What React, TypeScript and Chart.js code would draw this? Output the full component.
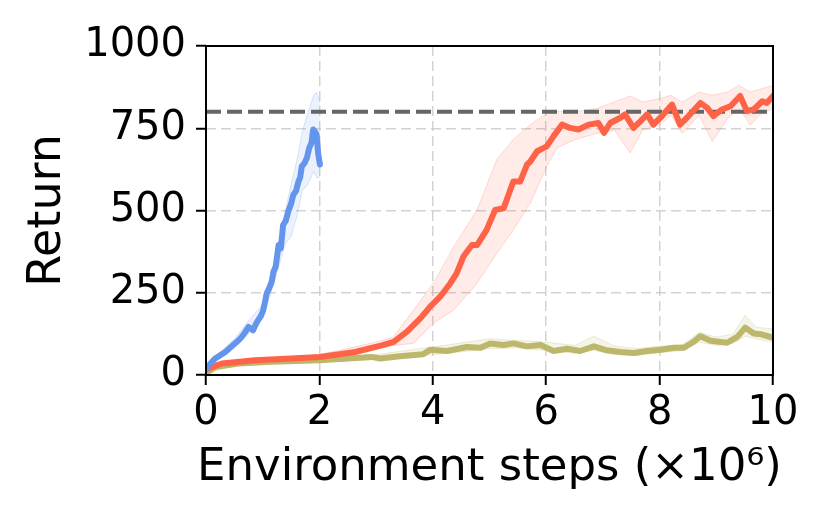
import React, { useEffect, useRef } from "react";
import { Chart, registerables } from "chart.js";

Chart.register(...registerables);

// ---- Data (x in units of 1e6 environment steps) ----
const blueX = [0.0, 0.08, 0.16, 0.25, 0.34, 0.42, 0.51, 0.57, 0.63, 0.69, 0.75, 0.8, 0.83, 0.88, 0.92, 0.97, 1.01, 1.05, 1.07, 1.11, 1.16, 1.19, 1.23, 1.28, 1.32, 1.36, 1.41, 1.45, 1.5, 1.54, 1.59, 1.63, 1.66, 1.69, 1.74, 1.78, 1.82, 1.86, 1.89, 1.92, 1.95, 1.98, 2.01];
const blueMean = [18, 35, 50, 60, 70, 82, 96, 105, 116, 130, 146, 140, 136, 155, 167, 180, 197, 230, 248, 262, 284, 314, 330, 395, 385, 456, 470, 497, 520, 548, 560, 588, 600, 634, 645, 660, 690, 705, 746, 740, 731, 670, 640];
const blueBandX = [0, 0.25, 0.5, 0.75, 1.0, 1.2, 1.4, 1.5, 1.6, 1.7, 1.8, 1.9, 1.95, 2.01];
const blueHigh = [25, 70, 110, 165, 215, 340, 500, 580, 650, 740, 800, 850, 860, 830];
const blueLow = [12, 50, 85, 125, 180, 280, 400, 420, 480, 560, 580, 620, 600, 600];

const redX = [0, 0.28, 0.86, 1.5, 2.01, 2.63, 3.1, 3.31, 3.54, 3.78, 3.95, 4.13, 4.31, 4.42, 4.54, 4.69, 4.78, 4.95, 5.1, 5.25, 5.42, 5.54, 5.66, 5.72, 5.84, 6.01, 6.13, 6.28, 6.42, 6.57, 6.75, 6.92, 7.02, 7.13, 7.31, 7.39, 7.54, 7.66, 7.78, 7.89, 8.04, 8.22, 8.36, 8.51, 8.72, 8.84, 8.95, 9.1, 9.25, 9.42, 9.54, 9.66, 9.81, 9.89, 10.0];
const redMean = [17, 35, 45, 50, 55, 70, 90, 101, 131, 172, 207, 238, 279, 309, 360, 395, 395, 441, 502, 507, 588, 588, 639, 649, 680, 695, 726, 761, 751, 746, 761, 766, 736, 766, 782, 792, 751, 771, 792, 761, 787, 822, 761, 787, 827, 812, 787, 807, 817, 848, 802, 807, 832, 827, 848];
const redBandX = [0, 1, 2, 3, 3.3, 3.66, 4.01, 4.37, 4.78, 5.13, 5.42, 5.72, 6.01, 6.19, 6.5, 6.9, 7.2, 7.48, 7.7, 8.0, 8.2, 8.4, 8.7, 8.93, 9.2, 9.4, 9.6, 9.8, 10];
const redLow = [12, 40, 50, 78, 90, 96, 157, 197, 279, 370, 441, 522, 634, 690, 715, 735, 745, 675, 745, 760, 790, 735, 790, 710, 780, 810, 760, 795, 810];
const redHigh = [22, 50, 62, 100, 115, 197, 279, 390, 502, 655, 716, 761, 795, 802, 800, 810, 830, 848, 830, 840, 850, 830, 860, 850, 860, 880, 860, 870, 880];

const oliveX = [0, 0.16, 0.57, 1.16, 2.01, 2.92, 3.07, 3.42, 3.83, 3.95, 4.25, 4.6, 4.84, 5.01, 5.25, 5.42, 5.66, 5.9, 6.13, 6.37, 6.6, 6.84, 7.07, 7.31, 7.55, 7.78, 8.02, 8.25, 8.43, 8.6, 8.72, 8.9, 9.19, 9.37, 9.51, 9.66, 9.78, 9.99];
const oliveMean = [5, 24, 35, 40, 45, 55, 50, 57, 63, 77, 73, 85, 83, 96, 91, 96, 87, 91, 73, 80, 73, 87, 75, 70, 67, 73, 77, 83, 83, 101, 118, 104, 98, 116, 144, 126, 124, 114];
const oliveBandX = [0, 0.5, 1, 2, 3, 4, 4.6, 5, 5.5, 6, 6.5, 6.84, 7.2, 7.6, 8, 8.4, 8.7, 9, 9.3, 9.51, 9.7, 10];
const oliveLow = [3, 30, 35, 40, 47, 62, 72, 80, 82, 75, 66, 75, 62, 60, 68, 74, 100, 90, 96, 118, 110, 100];
const oliveHigh = [8, 40, 45, 52, 62, 85, 100, 110, 105, 100, 90, 118, 88, 80, 88, 92, 130, 115, 125, 182, 145, 140];

const refX = [0, 10];
const refY = [800, 800];

const xTicks = [0, 2, 4, 6, 8, 10];
const yTicks = [0, 250, 500, 750, 1000];

const X_TITLE = "Environment steps (×10⁶)";
const Y_TITLE = "Return";

const BLUE = "#6495ED";
const RED = "#FF6347";
const OLIVE = "#BDB76B";
const FONT_FAMILY = "'DejaVu Sans', sans-serif";

const pts = (xs: number[], ys: number[]) => xs.map((x, i) => ({ x, y: ys[i] }));

function meanLine(xs: number[], ys: number[], color: string, order: number) {
  return {
    data: pts(xs, ys),
    borderColor: color,
    backgroundColor: color,
    borderWidth: 6,
    pointRadius: 0,
    tension: 0,
    fill: false,
    borderJoinStyle: "round" as const,
    borderCapStyle: "round" as const,
    order,
  };
}

function bandPair(xs: number[], lo: number[], hi: number[], edge: string, fillColor: string, order: number) {
  return [
    {
      data: pts(xs, hi),
      borderColor: edge,
      borderWidth: 1,
      pointRadius: 0,
      tension: 0,
      fill: false,
      order,
    },
    {
      data: pts(xs, lo),
      borderColor: edge,
      backgroundColor: fillColor,
      borderWidth: 1,
      pointRadius: 0,
      tension: 0,
      fill: "-1",
      order,
    },
  ];
}

const spinePlugin = {
  id: "spines",
  afterDatasetsDraw(chart: any) {
    const { ctx, chartArea } = chart;
    const { left, top, right, bottom } = chartArea;
    ctx.save();
    ctx.strokeStyle = "#000";
    ctx.lineWidth = 2;
    ctx.strokeRect(left, top, right - left, bottom - top);
    ctx.restore();
  },
};

// x-axis title drawn without Chart.js's maxWidth squeeze (text is wider than the plot)
const xTitlePlugin = {
  id: "xTitle",
  afterDraw(chart: any) {
    const { ctx, chartArea } = chart;
    ctx.save();
    ctx.fillStyle = "#000";
    ctx.font = `45px ${FONT_FAMILY}`;
    ctx.textAlign = "center";
    ctx.textBaseline = "alphabetic";
    ctx.fillText(X_TITLE, (chartArea.left + chartArea.right) / 2, 480);
    ctx.restore();
  },
};

export default function App() {
  const ref = useRef<HTMLCanvasElement | null>(null);

  useEffect(() => {
    if (!ref.current) return;
    const datasets: any[] = [
      ...bandPair(blueBandX, blueLow, blueHigh, "rgba(100,149,237,0.22)", "rgba(100,149,237,0.13)", 10),
      ...bandPair(redBandX, redLow, redHigh, "rgba(255,99,71,0.22)", "rgba(255,99,71,0.12)", 10),
      ...bandPair(oliveBandX, oliveLow, oliveHigh, "rgba(189,183,107,0.25)", "rgba(189,183,107,0.15)", 10),
      {
        data: pts(refX, refY),
        borderColor: "#666666",
        borderWidth: 4,
        borderDash: [15, 6],
        pointRadius: 0,
        fill: false,
        order: 5,
      },
      meanLine(oliveX, oliveMean, OLIVE, 3),
      meanLine(redX, redMean, RED, 2),
      meanLine(blueX, blueMean, BLUE, 1),
    ];

    const font = { family: FONT_FAMILY };
    const chart = new Chart(ref.current, {
      type: "line",
      data: { datasets },
      options: {
        animation: false,
        responsive: false,
        devicePixelRatio: 1,
        layout: { padding: { left: 0, top: 46, right: 57, bottom: 0 } },
        plugins: { legend: { display: false }, tooltip: { enabled: false } },
        scales: {
          x: {
            type: "linear",
            min: 0,
            max: 10,
            afterFit: (s: any) => {
              s.height = 144;
            },
            afterBuildTicks: (s: any) => {
              s.ticks = xTicks.map((v) => ({ value: v }));
            },
            ticks: {
              color: "#000",
              font: { ...font, size: 40 },
              padding: 5,
              maxRotation: 0,
              callback: (v: any) => String(v),
            },
            grid: {
              color: "rgba(200,200,200,0.8)",
              lineWidth: 1.5,
              tickColor: "#000",
              tickWidth: 2,
              tickLength: 10,
            },
            border: { display: false, dash: [10, 5] },
            title: { display: false },
          },
          y: {
            type: "linear",
            min: 0,
            max: 1000,
            afterFit: (s: any) => {
              s.width = 206;
            },
            afterBuildTicks: (s: any) => {
              s.ticks = yTicks.map((v) => ({ value: v }));
            },
            ticks: {
              color: "#000",
              font: { ...font, size: 40 },
              padding: 10,
              callback: (v: any) => String(v),
            },
            grid: {
              color: "rgba(200,200,200,0.8)",
              lineWidth: 1.5,
              tickColor: "#000",
              tickWidth: 2,
              tickLength: 10,
            },
            border: { display: false, dash: [10, 5] },
            title: {
              display: true,
              text: Y_TITLE,
              color: "#000",
              font: { ...font, size: 46 },
              padding: { top: 20, bottom: 0 },
            },
          },
        },
      },
      plugins: [spinePlugin, xTitlePlugin],
    });
    return () => chart.destroy();
  }, []);

  return (
    <div style={{ position: "absolute", left: 0, top: 0, width: 830, height: 519, background: "#fff" }}>
      <canvas ref={ref} width={830} height={519} />
    </div>
  );
}
